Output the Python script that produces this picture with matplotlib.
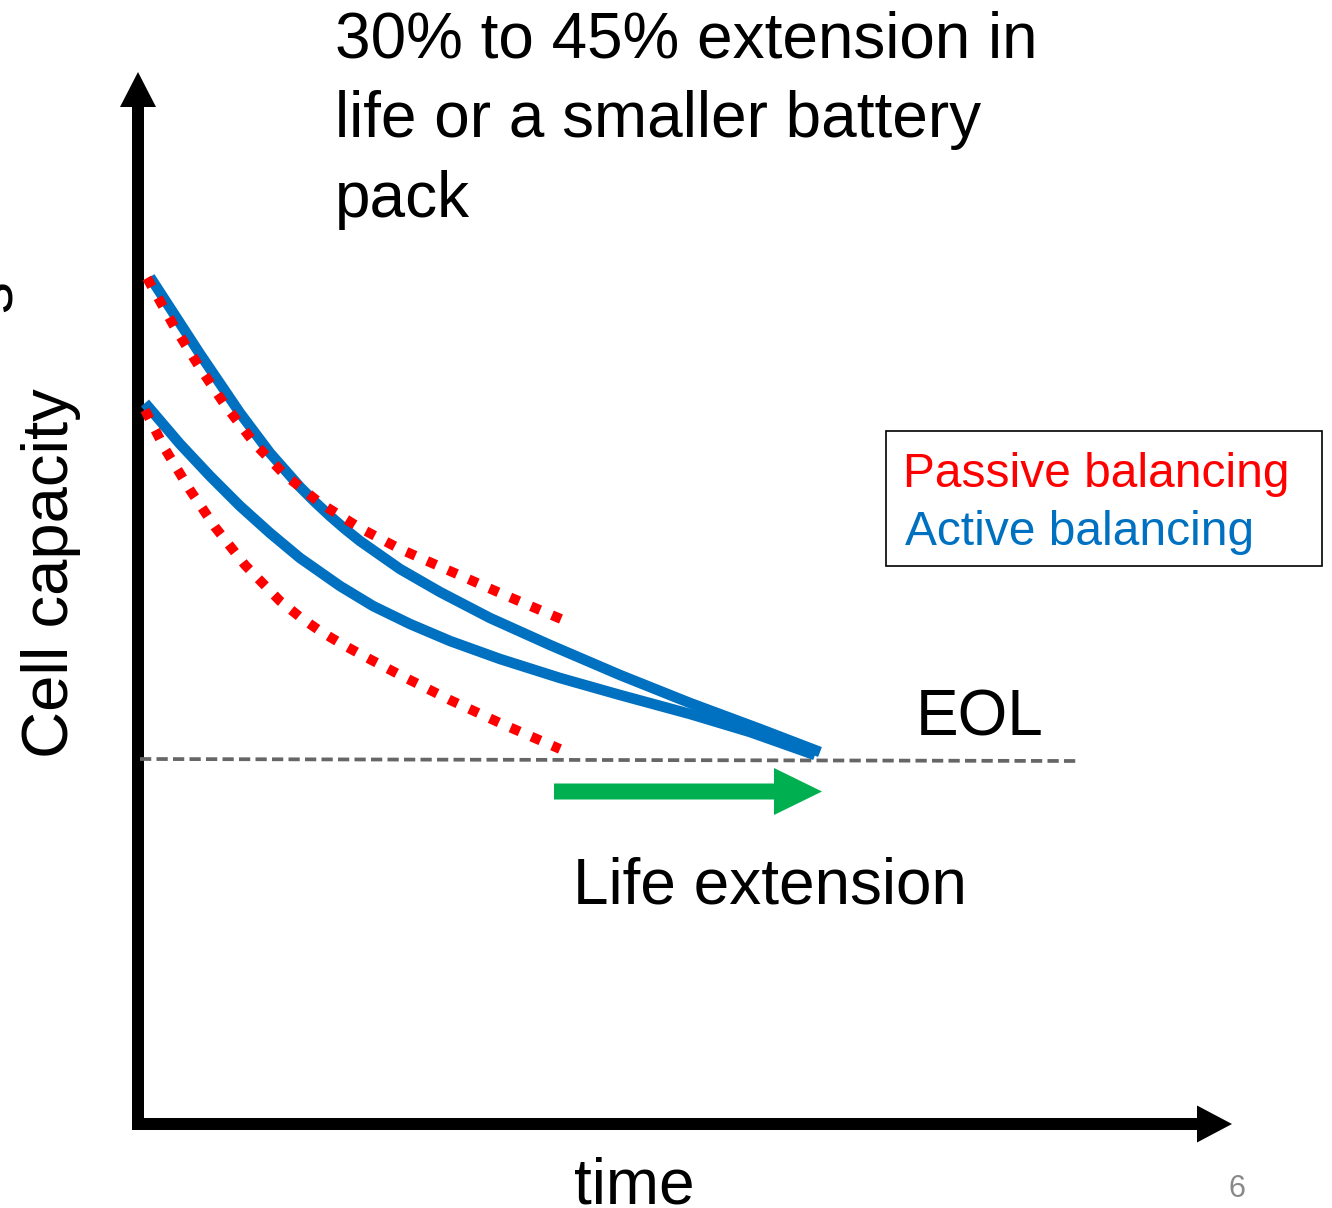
import matplotlib.pyplot as plt
from matplotlib.patches import FancyArrow, Rectangle

plt.rcParams["font.family"] = ["Liberation Sans", "DejaVu Sans"]

# time / capacity (1 unit = 100 px, origin at the axis corner)
active_top_t = [0.10, 0.60, 1.00, 1.30, 1.45, 1.60, 1.75, 1.90, 2.05, 2.20, 2.60, 3.00, 3.50, 4.10, 4.80, 5.50, 6.20, 6.80]
active_top_c = [8.47, 7.70, 7.11, 6.71, 6.54, 6.37, 6.22, 6.08, 5.95, 5.83, 5.55, 5.32, 5.06, 4.79, 4.49, 4.21, 3.95, 3.72]

active_low_t = [0.05, 0.40, 0.70, 1.00, 1.30, 1.60, 2.00, 2.33, 2.70, 3.10, 3.60, 4.20, 4.80, 5.50, 6.10, 6.75]
active_low_c = [7.21, 6.80, 6.48, 6.18, 5.91, 5.66, 5.38, 5.18, 5.00, 4.83, 4.65, 4.46, 4.29, 4.10, 3.92, 3.69]

passive_top_t = [0.07, 0.35, 0.60, 0.85, 1.15, 1.45, 1.80, 2.20, 2.60, 3.10, 3.60, 4.28]
passive_top_c = [8.46, 7.96, 7.56, 7.19, 6.80, 6.49, 6.21, 5.96, 5.75, 5.53, 5.31, 5.02]

passive_low_t = [0.05, 0.25, 0.50, 0.75, 1.05, 1.40, 1.60, 1.80, 2.00, 2.20, 2.60, 3.10, 3.60, 4.20]
passive_low_c = [7.14, 6.75, 6.34, 5.97, 5.59, 5.23, 5.07, 4.93, 4.81, 4.70, 4.49, 4.24, 4.01, 3.75]

eol_t = [0.0, 9.37]
eol_c = [3.65, 3.63]

ext_start = 4.14
ext_end = 6.82
ext_level = 3.325

title = "30% to 45% extension in\nlife or a smaller battery\npack"
labels = ["Passive balancing", "Active balancing"]

blue = "#0070C0"
red = "#FF0000"
green = "#00B050"

fig = plt.figure(figsize=(13.32, 12.08), dpi=100)
ax = fig.add_axes([0, 0, 1, 1])
ax.set_xlim(-1.40, 11.92)
ax.set_ylim(-0.84, 11.24)
ax.axis("off")

# axes drawn as arrows
ax.add_patch(FancyArrow(-0.02, -0.06, 0, 10.58, width=0.12, head_width=0.36, head_length=0.35,
                        length_includes_head=True, color="black", lw=0))
ax.add_patch(FancyArrow(-0.08, 0.0, 11.0, 0, width=0.12, head_width=0.37, head_length=0.35,
                        length_includes_head=True, color="black", lw=0))

ax.plot(eol_t, eol_c, color="#666666", lw=2.7, dashes=(3.0, 1.4))

ax.plot(active_top_t, active_top_c, color=blue, lw=7.6, solid_capstyle="butt", solid_joinstyle="round")
ax.plot(active_low_t, active_low_c, color=blue, lw=7.6, solid_capstyle="butt", solid_joinstyle="round")
ax.plot(passive_top_t, passive_top_c, color=red, lw=7.1, dashes=(1, 1.3))
ax.plot(passive_low_t, passive_low_c, color=red, lw=7.1, dashes=(1, 1.3))

ax.add_patch(FancyArrow(ext_start, ext_level, ext_end - ext_start, 0, width=0.16, head_width=0.47,
                        head_length=0.48, length_includes_head=True, color=green, lw=0))

ax.text(1.95, 11.13, title, fontsize=46, ha="left", va="top", linespacing=1.41)
ax.text(-0.72, 5.51, "Cell capacity", fontsize=47, rotation=90, rotation_mode="anchor",
        ha="center", va="baseline")
ax.text(-1.28, 8.28, "s", fontsize=46, rotation=90, rotation_mode="anchor",
        ha="center", va="baseline")
ax.text(7.76, 3.88, "EOL", fontsize=46, ha="left", va="baseline")
ax.text(4.33, 2.21, "Life extension", fontsize=46, ha="left", va="baseline")
ax.text(4.34, -0.79, "time", fontsize=46, ha="left", va="baseline")
ax.text(10.97, -0.65, "6", fontsize=22, color="#898989", ha="center", va="center")

ax.add_patch(Rectangle((7.46, 5.58), 4.36, 1.35, fill=False, edgecolor="black", lw=1.2))
ax.text(7.63, 6.37, labels[0], fontsize=34.5, color=red, ha="left", va="baseline")
ax.text(7.65, 5.79, labels[1], fontsize=34.5, color=blue, ha="left", va="baseline")

fig.savefig("out.png", dpi=100)
